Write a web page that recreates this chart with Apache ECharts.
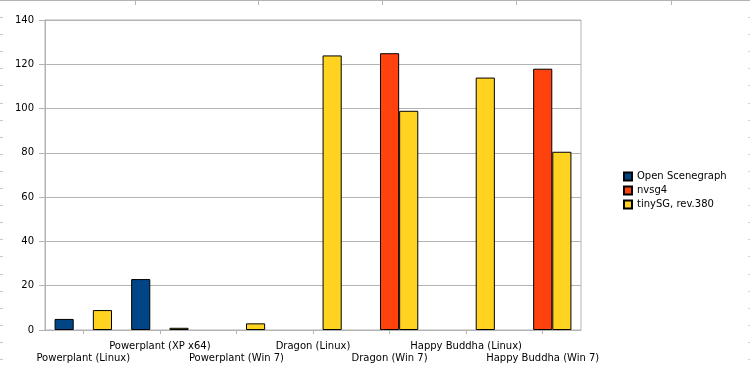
<!DOCTYPE html>
<html>
<head>
<meta charset="utf-8">
<script src="https://cdn.jsdelivr.net/npm/echarts@6/dist/echarts.min.js"></script>
<style>html,body{margin:0;padding:0;background:#fff;}#c{width:750px;height:375px;}</style>
</head>
<body>
<div id="c"></div>
<script>
const categories = ['Powerplant (Linux)', 'Powerplant (XP x64)', 'Powerplant (Win 7)', 'Dragon (Linux)', 'Dragon (Win 7)', 'Happy Buddha (Linux)', 'Happy Buddha (Win 7)'];
const openScenegraph = [5, 23, null, null, null, null, null];
const nvsg4 = [null, null, null, null, 125, null, 118];
const tinySG = [9, 1, 3, 124, 99, 114, 80.5];
const seriesNames = ['Open Scenegraph', 'nvsg4', 'tinySG, rev.380'];
const yTicks = { min: 0, max: 140, interval: 20 };

const colors = ['#004586', '#ff420e', '#ffd320'];
const font = 'DejaVu Sans';
const chart = echarts.init(document.getElementById('c'), null, { renderer: 'canvas' });

const mk = (name, data, color) => ({
  name: name,
  type: 'bar',
  data: data,
  barGap: '0%',
  barCategoryGap: '25%',
  itemStyle: { color: color, borderColor: '#000', borderWidth: 1 },
  emphasis: { disabled: true },
  animation: false
});

// ruler-like decoration at the image edges
const deco = [{ type: 'line', shape: { x1: 0, y1: 0.5, x2: 750, y2: 0.5 }, style: { stroke: '#b3b3b3', lineWidth: 1 } }];
[135, 258, 382, 516, 671].forEach(x => deco.push({ type: 'line', shape: { x1: x + 0.5, y1: 0, x2: x + 0.5, y2: 5 }, style: { stroke: '#b3b3b3', lineWidth: 1 } }));
for (let y = 17; y < 375; y += 17.1) {
  deco.push({ type: 'line', shape: { x1: 0, y1: Math.round(y) + 0.5, x2: 3, y2: Math.round(y) + 0.5 }, style: { stroke: '#c8c8c8', lineWidth: 1 } });
  deco.push({ type: 'line', shape: { x1: 748, y1: Math.round(y) + 0.5, x2: 750, y2: Math.round(y) + 0.5 }, style: { stroke: '#d0d0d0', lineWidth: 1 } });
}

chart.setOption({
  animation: false,
  backgroundColor: '#fff',
  graphic: deco,
  grid: { left: 45, right: 169, top: 20, bottom: 45, show: true, borderColor: '#b3b3b3', borderWidth: 1, containLabel: false },
  legend: {
    orient: 'vertical',
    left: 623,
    top: 171,
    padding: 0,
    itemWidth: 8,
    itemHeight: 8,
    itemGap: 3,
    icon: 'rect',
    selectedMode: false,
    textStyle: { fontFamily: font, fontSize: 10, color: '#000', lineHeight: 11 },
    data: seriesNames
  },
  xAxis: {
    type: 'category',
    data: categories,
    boundaryGap: true,
    axisLine: { lineStyle: { color: '#b3b3b3' } },
    axisTick: { show: true, alignWithLabel: true, length: 4, lineStyle: { color: '#b3b3b3' } },
    axisLabel: {
      interval: 0,
      margin: 10,
      fontFamily: font,
      fontSize: 10,
      color: '#000',
      lineHeight: 12.3,
      formatter: (v, i) => (i % 2 === 0 ? '\n' + v : v)
    },
    splitLine: { show: false }
  },
  yAxis: {
    type: 'value',
    min: yTicks.min,
    max: yTicks.max,
    interval: yTicks.interval,
    axisLine: { show: true, lineStyle: { color: '#b3b3b3' } },
    axisTick: { show: true, length: 6, lineStyle: { color: '#b3b3b3' } },
    axisLabel: { margin: 11, fontFamily: font, fontSize: 10, color: '#000' },
    splitLine: { show: true, lineStyle: { color: '#b3b3b3', width: 1 } }
  },
  series: [
    mk(seriesNames[0], openScenegraph, colors[0]),
    mk(seriesNames[1], nvsg4, colors[1]),
    mk(seriesNames[2], tinySG, colors[2])
  ]
});
</script>
</body>
</html>
